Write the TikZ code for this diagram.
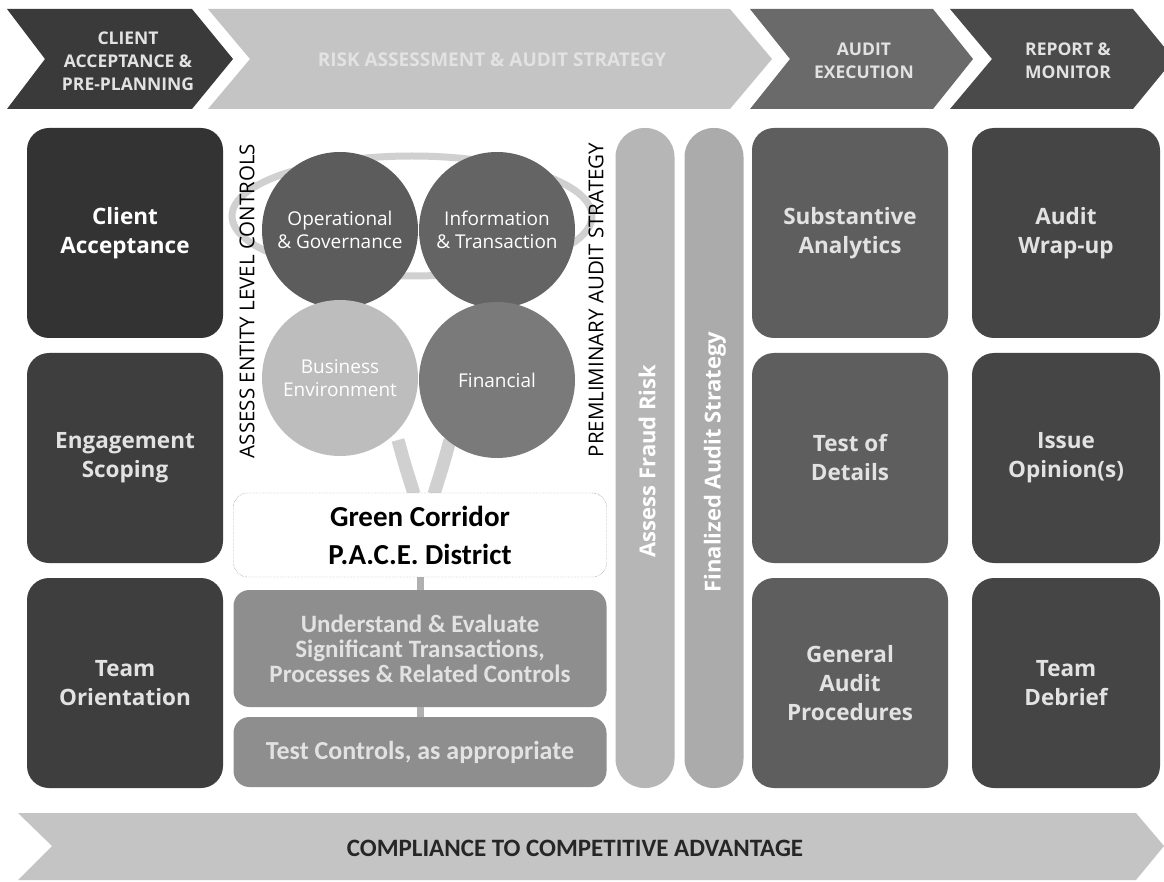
\documentclass[tikz,border=0pt]{standalone}
\usepackage{fontspec}
\setmainfont{Open Sans}
\newfontfamily\calfont{Carlito}
\usetikzlibrary{shapes.geometric}
\definecolor{cA}{HTML}{3A3A3A}
\definecolor{cB}{HTML}{C4C4C4}
\definecolor{cC}{HTML}{6A6A6A}
\definecolor{cD}{HTML}{4A4A4A}
\definecolor{boxL1}{HTML}{333333}
\definecolor{boxL}{HTML}{3E3E3E}
\definecolor{boxR1}{HTML}{5E5E5E}
\definecolor{boxR2}{HTML}{454545}
\definecolor{midbox}{HTML}{8E8E8E}
\definecolor{barA}{HTML}{B6B6B6}
\definecolor{barB}{HTML}{ABABAB}
\definecolor{ring}{HTML}{D0D0D0}
\definecolor{txtw}{HTML}{E2E2E2}
\definecolor{ballD}{HTML}{5C5C5C}
\definecolor{ballL}{HTML}{BDBDBD}
\definecolor{ballM}{HTML}{7A7A7A}
\begin{document}
\begin{tikzpicture}[x=1pt,y=-1pt,
  banner/.style={text=txtw,font=\bfseries\fontsize{17.5}{23}\selectfont,align=center},
  sqbox/.style={rounded corners=22pt,minimum width=196pt,minimum height=210pt,inner sep=0pt,
     text=txtw,font=\bfseries\fontsize{22.5}{29}\selectfont,align=center},
  ball/.style={circle,minimum size=156pt,inner sep=0pt,text=white,
     font=\fontsize{19}{23}\selectfont,align=center},
  midtxt/.style={rounded corners=16pt,minimum width=373pt,inner sep=0pt,fill=midbox,
     text=txtw,font=\calfont\bfseries\fontsize{25}{25}\selectfont,align=center},
  vbar/.style={rounded corners=29pt,minimum width=59pt,minimum height=660pt,inner sep=0pt},
  vtxt/.style={rotate=90,text=white,font=\bfseries\fontsize{22}{26}\selectfont},
  sidelbl/.style={rotate=90,text=black,font=\fontsize{20.5}{24}\selectfont},
  stem/.style={line width=13pt,color=ring},
  link/.style={line width=7pt,color=midbox!70}]
\useasboundingbox (0,0) rectangle (1164,882);
\clip (0,0) rectangle (1164,882);
\fill[white] (0,0) rectangle (1164,882);
% top banner
\fill[cA] (7,9) -- (192,9) -- (233,59) -- (192,109) -- (7,109) -- (45,59) -- cycle;
\fill[cB] (208,9) -- (730,9) -- (772,59) -- (730,109) -- (208,109) -- (250,59) -- cycle;
\fill[cC] (750,9) -- (933,9) -- (973,59) -- (933,109) -- (750,109) -- (790,59) -- cycle;
\fill[cD] (950,9) -- (1133,9) -- (1174,59) -- (1133,109) -- (950,109) -- (992,59) -- cycle;
\node[banner] (phA) at (128,61) {CLIENT\\ACCEPTANCE \&\\PRE-PLANNING};
\node[banner,font=\bfseries\fontsize{19}{23}\selectfont] (phB) at (492,60) {RISK ASSESSMENT \& AUDIT STRATEGY};
\node[banner] (phC) at (864,61) {AUDIT\\EXECUTION};
\node[banner] (phD) at (1068,61) {REPORT \&\\MONITOR};
% left column
\node[sqbox,fill=boxL1,text=white] (ca) at (125,233) {Client\\Acceptance};
\node[sqbox,fill=boxL] (es) at (125,458) {Engagement\\Scoping};
\node[sqbox,fill=boxL] (to) at (125,683) {Team\\Orientation};
% right columns
\node[sqbox,fill=boxR1] (sa) at (850,233) {Substantive\\Analytics};
\node[sqbox,fill=boxR1] (td) at (850,458) {Test of\\Details};
\node[sqbox,fill=boxR1] (gap) at (850,683) {General\\Audit\\Procedures};
\node[sqbox,fill=boxR2,minimum width=188pt] (aw) at (1066,233) {Audit\\Wrap-up};
\node[sqbox,fill=boxR2,minimum width=188pt] (io) at (1066,458) {Issue\\Opinion(s)};
\node[sqbox,fill=boxR2,minimum width=188pt] (tdb) at (1066,683) {Team\\Debrief};
% ring and stems behind the balls
\draw[line width=7pt,color=ring] (412,216) ellipse (180 and 60);
\draw[stem] (398,440) .. controls (404,462) .. (414,494);
\draw[stem] (450,440) .. controls (444,462) .. (434,494);
% balls
\node[ball,fill=ballD] (og) at (340,230) {Operational\\\& Governance};
\node[ball,fill=ballD!95!white] (it) at (497,230) {Information\\\& Transaction};
\node[ball,fill=ballL,text=white] (be) at (340,378) {Business\\Environment};
\node[ball,fill=ballM] (fi) at (497,380) {Financial};
% side labels
\node[sidelbl] (aelc) at (247,301) {ASSESS ENTITY LEVEL CONTROLS};
\node[sidelbl] (pas) at (596,300) {PREMLIMINARY AUDIT STRATEGY};
% green corridor
\node[draw=black!60,densely dotted,thin,rounded corners=14pt,fill=white,minimum width=373pt,minimum height=84pt,
  font=\calfont\bfseries\fontsize{29}{38}\selectfont,align=center,inner sep=0pt] (gc) at (420,535) {Green Corridor\\P.A.C.E. District};
\node[midtxt,minimum height=117pt] (und) at (420,648.5) {Understand \& Evaluate\\Significant Transactions,\\Processes \& Related Controls};
\node[midtxt,minimum height=70pt,font=\calfont\bfseries\fontsize{26}{28}\selectfont] (tc) at (420,752) {Test Controls, as appropriate};
\draw[link] (gc.south) -- (und.north);
\draw[link] (und.south) -- (tc.north);
% vertical bars
\node[vbar,fill=barA] (afr) at (645,458) {};
\node[vbar,fill=barB] (fas) at (714,458) {};
\node[vtxt] (afrt) at (647,461) {Assess Fraud Risk};
\node[vtxt] (fast) at (715,462) {Finalized Audit Strategy};
% bottom arrow
\fill[cB] (18,813) -- (1136,813) -- (1164,846) -- (1136,880) -- (18,880) -- (52,846) -- cycle;
\node[font=\calfont\bfseries\fontsize{25}{28}\selectfont,text=black!85] (cca) at (575,848) {COMPLIANCE TO COMPETITIVE ADVANTAGE};
\end{tikzpicture}
\end{document}
